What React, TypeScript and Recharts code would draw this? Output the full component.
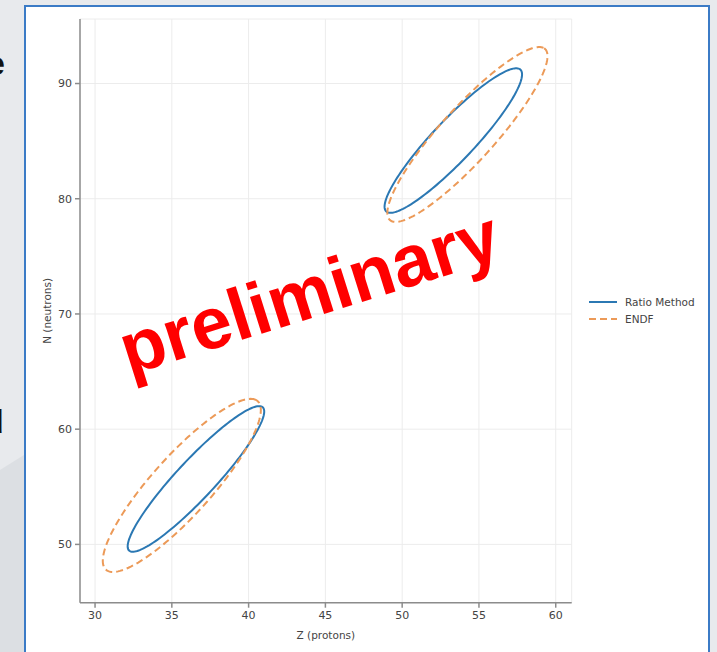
import { CartesianGrid, ComposedChart, Line, XAxis, YAxis } from 'recharts'

const zTicks = [30, 35, 40, 45, 50, 55, 60]
const nTicks = [50, 60, 70, 80, 90]
const zDomain = [29.02, 61.04]
const nDomain = [44.94, 95.6]

const seriesNames = ['Ratio Method', 'ENDF']
const seriesColors = ['#2b78b3', '#ec9a58']
const seriesDash = ['', '7 4']

// one ellipse per nucleus group: [lower, upper]
const ratioCenterZ = [36.57, 53.33]
const ratioCenterN = [55.68, 85.05]
const ratioSemiMajor = [7.6, 7.56]
const ratioSemiMinor = [1.4, 1.5]
const ratioAngle = [55.6, 55.3]

const endfCenterZ = [35.65, 54.25]
const endfCenterN = [55.12, 85.58]
const endfSemiMajor = [8.85, 9.0]
const endfSemiMinor = [2.15, 1.95]
const endfAngle = [57.0, 56.6]

type Pt = { z: number; n: number }

function ellipse(cz: number, cn: number, a: number, b: number, deg: number): Pt[] {
  const th = (deg * Math.PI) / 180
  const pts: Pt[] = []
  for (let i = 0; i <= 160; i++) {
    const t = (i / 160) * 2 * Math.PI
    const u = a * Math.cos(t)
    const v = b * Math.sin(t)
    pts.push({ z: cz + u * Math.cos(th) - v * Math.sin(th), n: cn + u * Math.sin(th) + v * Math.cos(th) })
  }
  return pts
}

const curves = [
  ...ratioCenterZ.map((_, i) => ({
    key: `ratio-${i}`,
    s: 0,
    data: ellipse(ratioCenterZ[i], ratioCenterN[i], ratioSemiMajor[i], ratioSemiMinor[i], ratioAngle[i]),
  })),
  ...endfCenterZ.map((_, i) => ({
    key: `endf-${i}`,
    s: 1,
    data: ellipse(endfCenterZ[i], endfCenterN[i], endfSemiMajor[i], endfSemiMinor[i], endfAngle[i]),
  })),
]

const font = '"DejaVu Sans", sans-serif'
const frame = '#8c8c8c'

function LegendBox() {
  return (
    <div style={{ position: 'absolute', left: 587, top: 293, fontFamily: font, fontSize: 10.5, color: '#444' }}>
      {seriesNames.map((name, i) => (
        <div key={name} style={{ display: 'flex', alignItems: 'center', height: 17 }}>
          <svg width={34} height={10}>
            <line x1={2} x2={30} y1={5} y2={5} stroke={seriesColors[i]} strokeWidth={2} strokeDasharray={seriesDash[i] || undefined} />
          </svg>
          <span style={{ marginLeft: 4 }}>{name}</span>
        </div>
      ))}
    </div>
  )
}

export default function App() {
  return (
    <div style={{ position: 'absolute', left: 0, top: 0, width: 717, height: 652, overflow: 'hidden', background: '#e8eaed' }}>
      <svg width={24} height={652} style={{ position: 'absolute', left: 0, top: 0 }}>
        <polygon points="0,470 24,455 24,652 0,652" fill="#dcdfe3" />
      </svg>
      <div style={{ position: 'absolute', left: -14, top: 44, fontFamily: '"Liberation Sans", Arial, sans-serif', fontWeight: 700, fontSize: 34, color: '#111' }}>e</div>
      <div style={{ position: 'absolute', left: -17, top: 402, fontFamily: '"Liberation Sans", Arial, sans-serif', fontWeight: 700, fontSize: 34, color: '#111' }}>d</div>
      <div style={{ position: 'absolute', left: 24, top: 5, width: 682, height: 680, background: '#fff', border: '2px solid #3b7bc6' }} />

      <div style={{ position: 'absolute', left: 0, top: 0 }}>
        <ComposedChart width={717} height={652} margin={{ top: 19, right: 145.3, bottom: 13.3, left: 40 }}>
          <CartesianGrid stroke="#ececec" strokeWidth={1} />
          <XAxis
            type="number"
            dataKey="z"
            domain={zDomain}
            ticks={zTicks}
            allowDataOverflow
            height={36}
            tickSize={5}
            tickMargin={3}
            stroke={frame}
            strokeWidth={1.5}
            tick={{ fontSize: 11, fill: '#444', fontFamily: font }}
            label={{ value: 'Z (protons)', position: 'insideBottom', offset: 0, style: { fontSize: 10.5, fill: '#444', fontFamily: font } }}
          />
          <XAxis xAxisId="top" orientation="top" type="number" domain={zDomain} height={0} tick={false} tickLine={false} stroke={frame} strokeWidth={1.5} />
          <YAxis
            type="number"
            domain={nDomain}
            ticks={nTicks}
            allowDataOverflow
            width={40}
            tickSize={5}
            tickMargin={3}
            stroke={frame}
            strokeWidth={1.5}
            tick={{ fontSize: 11, fill: '#444', fontFamily: font }}
            label={{ value: 'N (neutrons)', angle: -90, position: 'insideLeft', offset: 7, style: { textAnchor: 'middle', fontSize: 10.5, fill: '#444', fontFamily: font } }}
          />
          <YAxis yAxisId="right" orientation="right" type="number" domain={nDomain} width={0} tick={false} tickLine={false} stroke={frame} strokeWidth={1.5} />
          {curves.map((c) => (
            <Line
              key={c.key}
              data={c.data}
              dataKey="n"
              name={seriesNames[c.s]}
              type="linear"
              stroke={seriesColors[c.s]}
              strokeWidth={2}
              strokeDasharray={seriesDash[c.s] || undefined}
              dot={false}
              activeDot={false}
              isAnimationActive={false}
            />
          ))}
        </ComposedChart>
      </div>

      <LegendBox />

      <div
        style={{
          position: 'absolute',
          left: 309,
          top: 292,
          transform: 'translate(-50%, -50%) rotate(-17.5deg)',
          whiteSpace: 'nowrap',
          lineHeight: 1,
          fontFamily: '"Liberation Sans", Arial, sans-serif',
          fontWeight: 700,
          fontSize: 73,
          color: '#ff0000',
        }}
      >
        preliminary
      </div>
    </div>
  )
}
